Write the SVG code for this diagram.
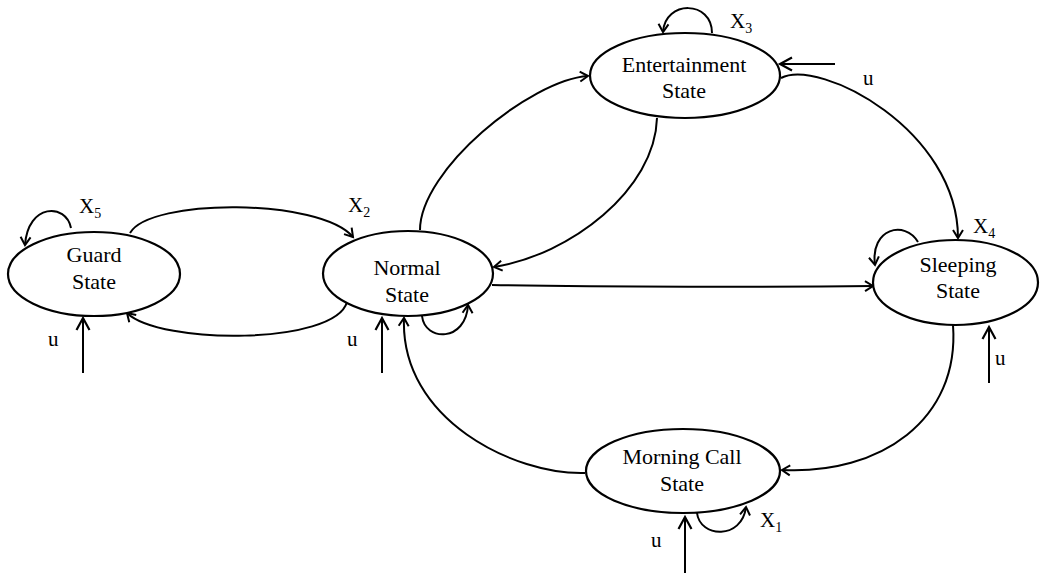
<svg xmlns="http://www.w3.org/2000/svg" width="1041" height="573" viewBox="0 0 1041 573">
<style>
.st{fill:#fff;stroke:#000;stroke-width:2.2}
.t{font-family:"Liberation Serif","Times New Roman",serif;font-size:22px;fill:#000;text-anchor:middle}
.l{font-family:"Liberation Serif","Times New Roman",serif;font-size:21px;fill:#000}
.s{font-size:14px}
.c{fill:none;stroke:#000;stroke-width:2}
.cs{marker-end:url(#sm)}
.cb{marker-end:url(#bg)}
</style>
<defs>
<marker id="sm" markerWidth="12" markerHeight="12" refX="9" refY="6" orient="auto" markerUnits="userSpaceOnUse" overflow="visible"><path d="M1,1 L9,6 L1,11" fill="none" stroke="#000" stroke-width="2"/></marker>
<marker id="bg" markerWidth="14" markerHeight="16" refX="12" refY="7" orient="auto" markerUnits="userSpaceOnUse" overflow="visible"><path d="M0,0.5 L12,7 L0,13.5" fill="none" stroke="#000" stroke-width="2.2"/></marker>
</defs>
<rect width="1041" height="573" fill="#fff"/>
<g id="connectors">
<path class="c cs" d="M71,228 C66,203 28,203 25,245"/>
<path class="c cs" d="M130,233 C150,198 320,198 353,237"/>
<path class="c cs" d="M347,302 C335,345 160,345 127,313"/>
<path class="c cb" d="M83,373 L83,318"/>
<path class="c cb" d="M382,373 L382,318"/>
<path class="c cs" d="M422,316 C425,342 466,342 468,305"/>
<path class="c cs" d="M585,473 C515,475 400,420 404,318"/>
<path class="c cs" d="M420,230 C420,170 530,80 588,76"/>
<path class="c cs" d="M657,118 C655,190 570,255 494,267"/>
<path class="c cs" d="M712,33 C712,0 665,0 663,32"/>
<path class="c cb" d="M835,64 L780,64"/>
<path class="c cs" d="M781,78 C820,58 958,130 958,238"/>
<path class="c cs" d="M918,242 C905,220 870,228 875,265"/>
<path class="c cs" d="M492,285 C600,287 780,287 873,286"/>
<path class="c cb" d="M989,383 L989,327"/>
<path class="c cs" d="M953,325 C960,420 880,475 782,470"/>
<path class="c cb" d="M685,573 L685,517"/>
<path class="c cs" d="M697,513 C700,538 742,540 746,507"/>
</g>
<g id="labels">
<text class="l" x="79" y="213">X<tspan class="s" dy="5">5</tspan></text>
<text class="l" x="348" y="212">X<tspan class="s" dy="5">2</tspan></text>
<text class="l" x="730" y="28">X<tspan class="s" dy="5">3</tspan></text>
<text class="l" x="973" y="233">X<tspan class="s" dy="5">4</tspan></text>
<text class="l" x="760" y="527">X<tspan class="s" dy="5">1</tspan></text>
<text class="l" x="48" y="346">u</text>
<text class="l" x="347" y="346">u</text>
<text class="l" x="863" y="85">u</text>
<text class="l" x="995" y="365">u</text>
<text class="l" x="651" y="547">u</text>
</g>
<g id="guard">
<ellipse class="st" cx="94" cy="274" rx="86" ry="42"/>
<text class="t" x="94" y="262">Guard</text>
<text class="t" x="94" y="289">State</text>
</g>
<g id="normal">
<ellipse class="st" cx="408" cy="273.5" rx="85" ry="42.5"/>
<text class="t" x="407" y="275">Normal</text>
<text class="t" x="407" y="302">State</text>
</g>
<g id="entertainment">
<ellipse class="st" cx="685" cy="75.5" rx="95" ry="42.5"/>
<text class="t" x="684" y="72">Entertainment</text>
<text class="t" x="684" y="98">State</text>
</g>
<g id="sleeping">
<ellipse class="st" cx="955.5" cy="282.5" rx="82.5" ry="42.5"/>
<text class="t" x="958" y="272">Sleeping</text>
<text class="t" x="958" y="298">State</text>
</g>
<g id="morning">
<ellipse class="st" cx="683" cy="471" rx="97" ry="42"/>
<text class="t" x="682" y="464">Morning Call</text>
<text class="t" x="682" y="491">State</text>
</g>
</svg>
